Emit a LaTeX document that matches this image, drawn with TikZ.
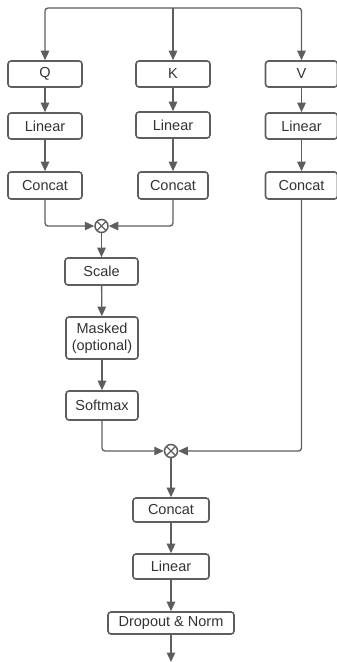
\documentclass[tikz,border=0pt]{standalone}
\usepackage{fontspec}
\setmainfont{Liberation Sans}
\usetikzlibrary{arrows.meta}
\definecolor{ln}{HTML}{5E5E5E}
\definecolor{tx}{HTML}{333333}
\tikzset{
  box/.style={draw=ln, line width=1.6pt, rounded corners=3pt, fill=white, text=tx,
    inner sep=0pt, font=\fontsize{14.5}{17}\selectfont, align=center},
  conn/.style={draw=ln, line width=1.3pt, rounded corners=3pt,
    -{Triangle[length=9.5pt,width=8.5pt]}},
  mult/.style={circle, draw=ln, line width=1.5pt, minimum size=13pt, inner sep=0pt, fill=white,
    path picture={\draw[ln, line width=1.3pt]
      (path picture bounding box.south west) -- (path picture bounding box.north east)
      (path picture bounding box.north west) -- (path picture bounding box.south east);}}
}
\begin{document}
\begin{tikzpicture}[x=1pt,y=-1pt]
\useasboundingbox (0,0) rectangle (337,662);
\coordinate (top) at (173,8);
\node[box, minimum width=74pt, minimum height=26pt] (q) at (45,74) {Q};
\node[box, minimum width=74pt, minimum height=26pt] (k) at (173,74) {K};
\node[box, minimum width=72pt, minimum height=26pt] (v) at (301.5,74) {V};
\node[box, minimum width=74pt, minimum height=26pt] (lq) at (45,126) {Linear};
\node[box, minimum width=74pt, minimum height=26pt] (lk) at (173,125) {Linear};
\node[box, minimum width=72pt, minimum height=26pt] (lv) at (301.5,126) {Linear};
\node[box, minimum width=74pt, minimum height=27pt] (cq) at (45,185.5) {Concat};
\node[box, minimum width=70pt, minimum height=27pt] (ck) at (173,185.5) {Concat};
\node[box, minimum width=72pt, minimum height=27pt] (cv) at (301.5,185.5) {Concat};
\node[mult] (m1) at (101.5,226) {};
\node[box, minimum width=73pt, minimum height=27pt] (sc) at (101.5,271.5) {Scale};
\node[box, minimum width=72pt, minimum height=42pt] (mk) at (102,338) {Masked\\(optional)};
\node[box, minimum width=72pt, minimum height=29pt] (sm) at (102,405.5) {Softmax};
\node[mult] (m2) at (171,451) {};
\node[box, minimum width=76pt, minimum height=24pt] (c2) at (171,510) {Concat};
\node[box, minimum width=76pt, minimum height=25pt] (l2) at (171,566.5) {Linear};
\node[box, minimum width=126pt, minimum height=22pt] (dn) at (171,623) {Dropout \& Norm};
\coordinate (out) at (171,662);

\draw[conn] (top) -| (q.north);
\draw[conn] (top) -| (v.north);
\draw[conn] (top) -- (k.north);
\draw[conn] (q) -- (lq);
\draw[conn] (k) -- (lk);
\draw[conn] (v) -- (lv);
\draw[conn] (lq) -- (cq);
\draw[conn] (lk) -- (ck);
\draw[conn] (lv) -- (cv);
\draw[conn] (cq.south) |- (m1.west);
\draw[conn] (ck.south) |- (m1.east);
\draw[conn] (m1) -- (sc);
\draw[conn] (sc) -- (mk);
\draw[conn] (mk) -- (sm);
\draw[conn] (sm.south) |- (m2.west);
\draw[conn] (cv.south) |- (m2.east);
\draw[conn] (m2) -- (c2);
\draw[conn] (c2) -- (l2);
\draw[conn] (l2) -- (dn);
\draw[conn] (dn) -- (out);
\end{tikzpicture}
\end{document}
